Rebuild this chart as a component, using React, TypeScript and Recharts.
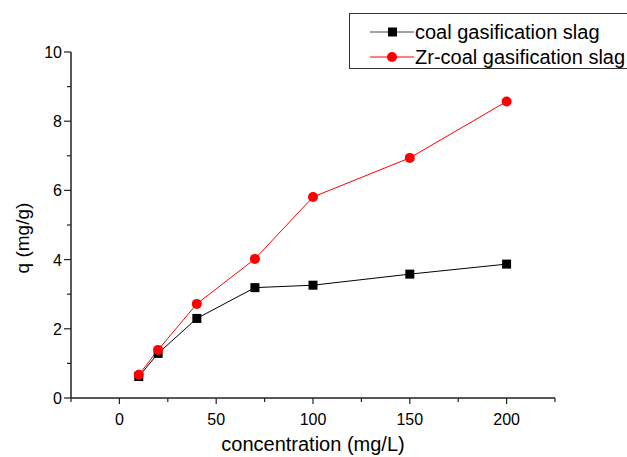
import { LineChart, Line, XAxis, YAxis } from 'recharts'

const concentration = [10, 20, 40, 70, 100, 150, 200]
const coalSlag = [0.62, 1.29, 2.3, 3.19, 3.26, 3.58, 3.87]
const zrCoalSlag = [0.67, 1.39, 2.72, 4.02, 5.81, 6.94, 8.57]
const xTicks = [-25, 0, 25, 50, 75, 100, 125, 150, 175, 200, 225]
const yTicks = [0, 1, 2, 3, 4, 5, 6, 7, 8, 9, 10]
const seriesNames = ['coal gasification slag', 'Zr-coal gasification slag']

const data = concentration.map((c, i) => ({ c, coal: coalSlag[i], zr: zrCoalSlag[i] }))

const font = '"Liberation Sans", Arial, sans-serif'
const axisColor = '#222'

function XTick(props: any) {
  const { x, y, payload } = props
  const v = payload.value
  const major = v % 50 === 0 && v >= 0 && v <= 200
  return (
    <g>
      <line x1={x} y1={y} x2={x} y2={y + (major ? 6 : 4)} stroke={axisColor} strokeWidth={1.2} />
      {major && (
        <text x={x} y={y + 27} textAnchor="middle" fontSize={16} fontFamily={font} fill="#000">
          {v}
        </text>
      )}
    </g>
  )
}

function YTick(props: any) {
  const { x, y, payload } = props
  const v = payload.value
  const major = v % 2 === 0
  return (
    <g>
      <line x1={x} y1={y} x2={x - (major ? 7 : 4)} y2={y} stroke={axisColor} strokeWidth={1.2} />
      {major && (
        <text x={x - 9} y={y + 6} textAnchor="end" fontSize={16} fontFamily={font} fill="#000">
          {v}
        </text>
      )}
    </g>
  )
}

function SquareDot(props: any) {
  const { cx, cy, index } = props
  return <rect key={`sq-${index}`} x={cx - 4.5} y={cy - 4.5} width={9} height={9} fill="#000" />
}

export default function App() {
  return (
    <div style={{ position: 'absolute', left: 0, top: 0, width: 627, height: 457, overflow: 'hidden', background: '#fff' }}>
      <LineChart width={627} height={457} data={data} margin={{ top: 52, right: 72, left: 0, bottom: 0 }}>
        <XAxis
          dataKey="c"
          type="number"
          domain={[-25, 225]}
          ticks={xTicks}
          interval={0}
          height={59}
          tickSize={0}
          tickMargin={0}
          tickLine={false}
          tick={<XTick />}
          axisLine={{ stroke: axisColor, strokeWidth: 1.5 }}
          label={(p: any) => (
            <text
              x={p.viewBox.x + p.viewBox.width / 2}
              y={p.viewBox.y + 53}
              textAnchor="middle"
              fontSize={20}
              fontFamily={font}
              fill="#000"
            >
              concentration (mg/L)
            </text>
          )}
        />
        <YAxis
          type="number"
          domain={[0, 10]}
          ticks={yTicks}
          interval={0}
          width={71}
          tickSize={0}
          tickMargin={0}
          tickLine={false}
          tick={<YTick />}
          axisLine={{ stroke: axisColor, strokeWidth: 1.5 }}
          label={() => (
            <text x={29} y={238} transform="rotate(-90 29 238)" textAnchor="middle" fontSize={19} fontFamily={font} fill="#000">
              q (mg/g)
            </text>
          )}
        />
        <Line
          dataKey="coal"
          stroke="#000"
          strokeWidth={1}
          dot={<SquareDot />}
          activeDot={false}
          isAnimationActive={false}
        />
        <Line
          dataKey="zr"
          stroke="#ff0000"
          strokeWidth={1}
          dot={{ r: 5, fill: '#ff0000', stroke: '#ff0000', strokeWidth: 0 }}
          activeDot={false}
          isAnimationActive={false}
        />
      </LineChart>
      <svg width={627} height={80} style={{ position: 'absolute', left: 0, top: 0 }}>
        <rect x={349.5} y={13.5} width={300} height={55} fill="#fff" stroke="#333" strokeWidth={1} />
        <line x1={370} y1={32} x2={414} y2={32} stroke="#444" strokeWidth={1} />
        <rect x={388} y={27.5} width={9} height={9} fill="#000" />
        <text x={415} y={39} fontSize={20} fontFamily={font} fill="#000">
          {seriesNames[0]}
        </text>
        <line x1={370} y1={57} x2={414} y2={57} stroke="#ff0000" strokeWidth={1} />
        <circle cx={392} cy={57} r={5} fill="#ff0000" />
        <text x={415} y={64} fontSize={20} fontFamily={font} fill="#000">
          {seriesNames[1]}
        </text>
      </svg>
    </div>
  )
}
